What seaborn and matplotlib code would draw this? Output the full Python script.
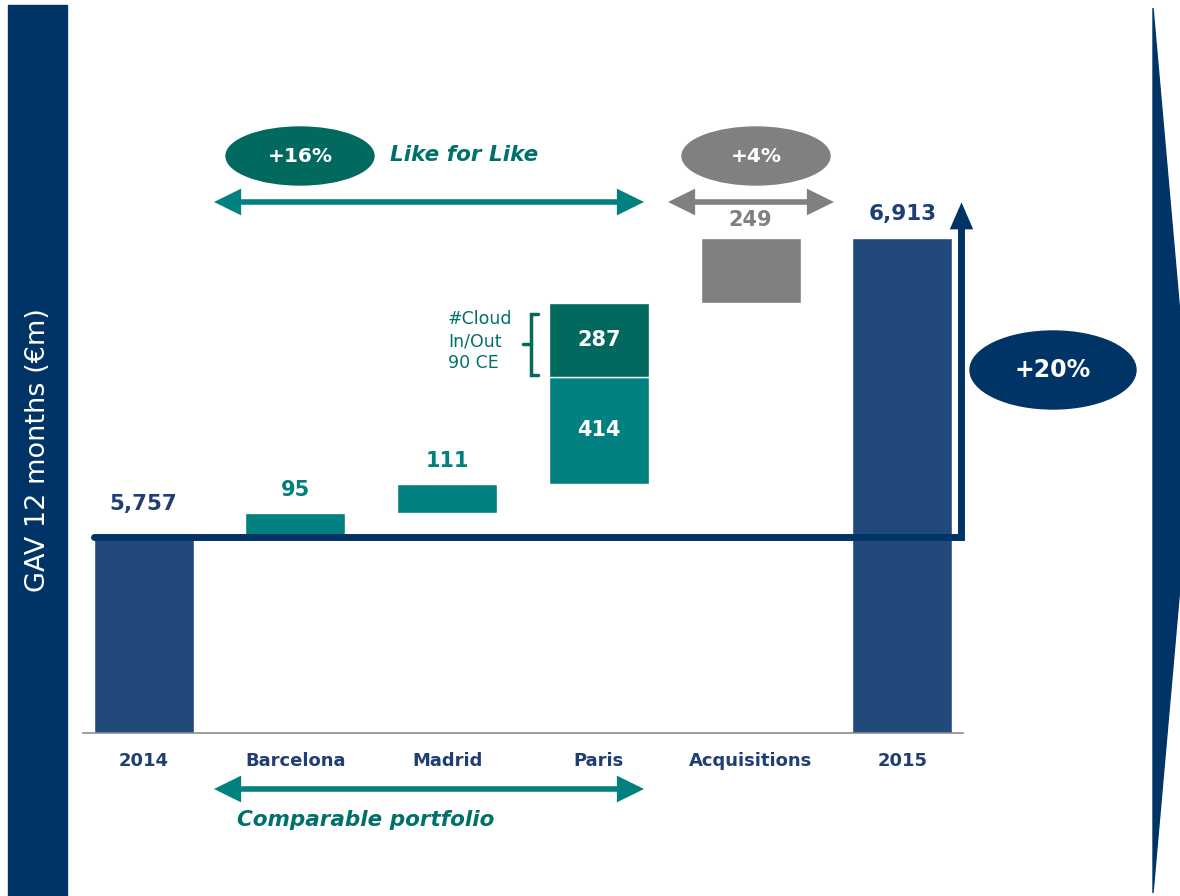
import pandas as pd
import matplotlib
matplotlib.use("Agg")
import matplotlib.pyplot as plt
from matplotlib.patches import Ellipse, Rectangle, Polygon, FancyArrowPatch
import seaborn as sns

# data
categories = ["2014", "Barcelona", "Madrid", "Paris", "Acquisitions", "2015"]
total_cats = ["2014", "2015"]
total_values = [5757, 6913]
step_cats = ["Barcelona", "Madrid", "Paris", "Paris", "Acquisitions"]
step_values = [95, 111, 414, 287, 249]
step_labels = ["95", "111", "414", "287", "249"]
pct_labels = ["+16%", "+4%", "+20%"]

NAVY = "#003466"
BAR_NAVY = "#21497c"
TEAL = "#00807f"
DARK_TEAL = "#02695f"
GREY = "#808080"
LABEL_NAVY = "#1f3f74"
TXT_TEAL = "#00706a"

sns.set_style("white")
plt.rcParams["font.family"] = ["DejaVu Sans"]

fig = plt.figure(figsize=(11.8, 8.96), dpi=100)
ax = fig.add_axes([83 / 1180, 163 / 896, 880 / 1180, 633 / 896])

df_tot = pd.DataFrame({"cat": total_cats, "value": total_values})
sns.barplot(data=df_tot, x="cat", y="value", order=categories, color=BAR_NAVY,
            saturation=1, width=0.66, ax=ax, zorder=2)

# floating steps of the waterfall
bottoms = []
level = total_values[0]
for v in step_values:
    bottoms.append(level)
    level += v
xpos = [categories.index(c) for c in step_cats]
colors = [TEAL, TEAL, TEAL, DARK_TEAL, GREY]
ax.bar(xpos, step_values, bottom=bottoms, width=0.66, color=colors,
       edgecolor="white", linewidth=1, zorder=2)

ax.set_xlim(-0.4, 5.4)
ax.set_ylim(5000, 7448)
ax.set_xlabel("")
ax.set_ylabel("")
ax.set_yticks([])
for s in ["top", "left", "right"]:
    ax.spines[s].set_visible(False)
ax.spines["bottom"].set_color("#8c8c8c")
ax.spines["bottom"].set_linewidth(1.2)
ax.tick_params(axis="x", length=0, pad=14)
for t in ax.get_xticklabels():
    t.set_fontsize(13)
    t.set_fontweight("bold")
    t.set_color(LABEL_NAVY)

# value labels
for c, v in zip(total_cats, total_values):
    off = 17 if c == "2014" else 10
    ax.annotate(f"{v:,}", (categories.index(c), v), xytext=(0, off),
                textcoords="offset points", ha="center", va="bottom",
                fontsize=15.5, fontweight="bold", color=LABEL_NAVY)
for i, (x, b, v, lab, col) in enumerate(zip(xpos, bottoms, step_values,
                                            step_labels, colors)):
    if step_cats[i] == "Paris":
        ax.text(x, b + v / 2, lab, ha="center", va="center", fontsize=15,
                fontweight="bold", color="white", zorder=4)
    else:
        off = 6 if step_cats[i] == "Acquisitions" else 9
        ax.annotate(lab, (x, b + v), xytext=(0, off), textcoords="offset points",
                    ha="center", va="bottom", fontsize=15, fontweight="bold",
                    color=col)

# baseline and total growth arrow
ax.plot([-0.33, 5.39, 5.39], [total_values[0], total_values[0], 6960],
        color=NAVY, lw=5, solid_joinstyle="miter", clip_on=False, zorder=3)
ax.annotate("", xy=(5.39, 7052), xytext=(5.39, 6940),
            arrowprops=dict(arrowstyle="-|>,head_length=0.62,head_width=0.27",
                            mutation_scale=20, lw=4, color=NAVY,
                            joinstyle="miter", capstyle="butt",
                            shrinkA=0, shrinkB=0), annotation_clip=False)

# decorations in pixel coordinates
deco = fig.add_axes([0, 0, 1, 1], zorder=5)
deco.set_xlim(0, 1180)
deco.set_ylim(896, 0)
deco.axis("off")
deco.patch.set_alpha(0)

deco.add_patch(Rectangle((8, 5), 59, 891, color=NAVY))
deco.text(38, 450, "GAV 12 months (€m)", rotation=90, ha="center",
          va="center", color="white", fontsize=19.5)
deco.add_patch(Polygon([(1153, 8), (1192, 450), (1153, 893)], color=NAVY))


def double_arrow(x0, x1, y, col):
    deco.add_patch(FancyArrowPatch((x0, y), (x1, y),
                                   arrowstyle="<|-|>,head_length=0.65,head_width=0.32",
                                   mutation_scale=20, lw=4, color=col,
                                   joinstyle="miter", capstyle="butt",
                                   shrinkA=0, shrinkB=0))


double_arrow(214, 644, 202, TEAL)
double_arrow(668, 834, 202, GREY)
double_arrow(214, 644, 789, TEAL)

deco.add_patch(Ellipse((300, 156), 148, 58, color=DARK_TEAL))
deco.add_patch(Ellipse((756, 156), 148, 58, color=GREY))
deco.add_patch(Ellipse((1053, 370), 166, 78, color=NAVY))
deco.text(300, 156, pct_labels[0], ha="center", va="center", color="white",
          fontsize=14.5, fontweight="bold")
deco.text(756, 156, pct_labels[1], ha="center", va="center", color="white",
          fontsize=14.5, fontweight="bold")
deco.text(1053, 370, pct_labels[2], ha="center", va="center", color="white",
          fontsize=17, fontweight="bold")

deco.text(390, 155, "Like for Like", ha="left", va="center", color=TXT_TEAL,
          fontsize=15.5, fontweight="bold", fontstyle="italic")
deco.text(237, 820, "Comparable portfolio", ha="left", va="center",
          color=TXT_TEAL, fontsize=15.5, fontweight="bold", fontstyle="italic")

# bracket for the cloud note
deco.text(448, 341, "#Cloud\nIn/Out\n90 CE", ha="left", va="center",
          color=TXT_TEAL, fontsize=12.5, linespacing=1.25)
deco.plot([538, 531, 531, 538], [314, 314, 375, 375], color=DARK_TEAL,
          lw=2.5, solid_joinstyle="miter")
deco.plot([523, 531], [344, 344], color=DARK_TEAL, lw=2.5)

fig.savefig("out.png", dpi=100)
